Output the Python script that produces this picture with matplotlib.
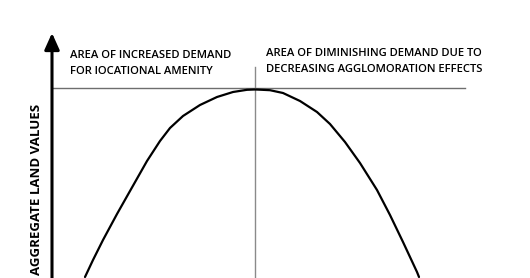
import matplotlib
matplotlib.use("Agg")
import matplotlib.pyplot as plt

# Curve (distance units, aggregate land value units)
distance = [85, 93, 103, 117, 130, 147, 160, 170, 183, 200, 217, 233, 247, 255,
            260, 270, 283, 300, 317, 330, 345, 360, 377, 390, 403, 417, 419]
land_value = [1, 18, 38, 64, 87, 117, 137, 150, 162, 173, 181, 186, 188.2, 188.5,
              188.3, 187.8, 185, 177, 166, 154, 136, 115, 88, 63, 36, 6, 1]

peak_x = 255
peak_y = 190
left_text = ["AREA OF INCREASED DEMAND", "FOR lOCATIONAL AMENITY"]
right_text = ["AREA OF DIMINISHING DEMAND DUE TO", "DECREASING AGGLOMORATION EFFECTS"]
ylabel = "AGGREGATE LAND VALUES"

W, H = 530, 278
fig = plt.figure(figsize=(W / 100, H / 100), dpi=100)
ax = fig.add_axes([0, 0, 1, 1])
ax.set_xlim(0, W)
ax.set_ylim(0, H)
ax.axis("off")

font = dict(family="Open Sans", weight="semibold", color="black")

# horizontal peak line and vertical divider
ax.plot([52, 465], [peak_y, peak_y], color="#6e6e6e", lw=1.0)
ax.plot([peak_x, peak_x], [0, 211], color="#8a8a8a", lw=1.0)

# y axis with arrow
ax.annotate("", xy=(52, 245), xytext=(52, 0),
            arrowprops=dict(arrowstyle="-|>,head_length=1.0,head_width=0.45",
                            color="black", lw=2.2, shrinkA=0, shrinkB=0))

# curve
ax.plot(distance, land_value, color="black", lw=1.6, solid_capstyle="round",
        solid_joinstyle="round")

# texts
fs = 8.1
ax.text(70, 223, left_text[0], fontsize=fs, va="center", ha="left", **font)
ax.text(70, 207, left_text[1], fontsize=fs, va="center", ha="left", **font)
ax.text(266, 224, right_text[0], fontsize=fs, va="center", ha="left", **font)
ax.text(266, 208, right_text[1], fontsize=fs, va="center", ha="left", **font)
ax.text(37, 89, ylabel, fontsize=9.5, rotation=90, va="center", ha="center",
        family="Open Sans", weight="bold", color="black")

fig.savefig("out.png", dpi=100)
